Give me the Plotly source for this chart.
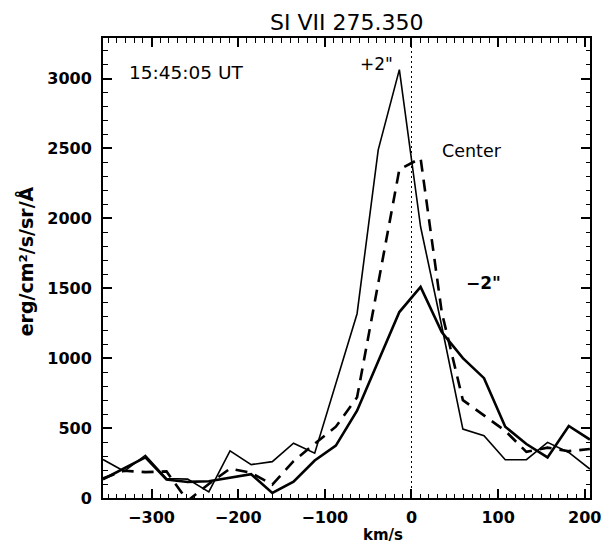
import plotly.graph_objects as go

# Doppler velocity grid (km/s)
velocity = [-356.0, -331.6, -307.1, -282.7, -258.3, -233.9, -209.4, -185.0,
            -160.6, -136.1, -111.7, -87.3, -62.8, -38.4, -14.0, 10.5,
            34.9, 59.3, 83.7, 108.2, 132.6, 157.0, 181.5, 205.9]

# Intensity profiles (erg/cm^2/s/sr/A)
plus2 = [275, 191, 306, 139, 135, 43, 337, 239,
         260, 392, 321, 820, 1318, 2490, 3064, 1940,
         1230, 493, 445, 274, 274, 398, 326, 207]
center = [140, 195, 185, 190, -20, 100, 210, 180,
          95, 263, 388, 510, 720, 1530, 2350, 2430,
          1330, 700, 590, 480, 330, 360, 335, 350]
minus2 = [134, 210, 290, 132, 115, 120, 146, 170,
          36, 117, 268, 375, 624, 983, 1330, 1510,
          1187, 1000, 857, 510, 386, 290, 515, 418]

x_ticks = [-300, -200, -100, 0, 100, 200]
y_ticks = [0, 500, 1000, 1500, 2000, 2500, 3000]

FONT = "DejaVu Sans"

fig = go.Figure()
fig.add_trace(go.Scatter(x=velocity, y=plus2, mode="lines",
                         line=dict(color="black", width=1.6), name="+2''"))
fig.add_trace(go.Scatter(x=velocity, y=center, mode="lines",
                         line=dict(color="black", width=2.6, dash="12px,8px"), name="Center"))
fig.add_trace(go.Scatter(x=velocity, y=minus2, mode="lines",
                         line=dict(color="black", width=2.6), name="-2''"))
fig.add_trace(go.Scatter(x=[0, 0], y=[0, 3290], mode="lines",
                         line=dict(color="black", width=1, dash="2px,3px"), hoverinfo="skip"))

axis_common = dict(
    showline=True, linecolor="black", linewidth=2, mirror="allticks",
    ticks="inside", ticklen=9, tickwidth=1.5, tickcolor="black",
    showgrid=False, zeroline=False,
    tickfont=dict(family=FONT, size=16, color="black", weight="bold"),
)

fig.update_xaxes(range=[-356, 206], tickvals=x_ticks,
                 minor=dict(ticks="inside", ticklen=4.5, dtick=10, tickwidth=1.2, tickcolor="black"),
                 ticklabelstandoff=4, **axis_common)
fig.update_yaxes(range=[0, 3290], tickvals=y_ticks,
                 minor=dict(ticks="inside", ticklen=4.5, dtick=100, tickwidth=1.2, tickcolor="black"),
                 ticklabelstandoff=6, **axis_common)

ann = [
    dict(text="SI VII 275.350", x=0.5, y=1.033, xref="paper", yref="paper",
         showarrow=False, xanchor="center", yanchor="middle",
         font=dict(family=FONT, size=22, color="black")),
    dict(text="erg/cm²/s/sr/Å", x=-0.1596, y=0.515, xref="paper", yref="paper",
         showarrow=False, textangle=-90, xanchor="center", yanchor="middle",
         font=dict(family=FONT, size=19, color="black", weight="bold")),
    dict(text="km/s", x=0.574, y=-0.080, xref="paper", yref="paper",
         showarrow=False, xanchor="center", yanchor="middle",
         font=dict(family=FONT, size=15, color="black", weight="bold")),
    dict(text="15:45:05 UT", x=-328.7, y=3046, xref="x", yref="y",
         showarrow=False, xanchor="left", yanchor="middle",
         font=dict(family=FONT, size=18.5, color="black")),
    dict(text="+2\"", x=-40.4, y=3107, xref="x", yref="y",
         showarrow=False, xanchor="center", yanchor="middle",
         font=dict(family=FONT, size=17, color="black")),
    dict(text="Center", x=69.4, y=2481, xref="x", yref="y",
         showarrow=False, xanchor="center", yanchor="middle",
         font=dict(family=FONT, size=17.5, color="black")),
    dict(text="−2\"", x=83, y=1536, xref="x", yref="y",
         showarrow=False, xanchor="center", yanchor="middle",
         font=dict(family=FONT, size=17, color="black", weight="bold")),
]

# page body adds an 8px offset, so the figure is sized/margined to compensate
fig.update_layout(
    width=605, height=536,
    margin=dict(l=95, r=19, t=30, b=46),
    paper_bgcolor="white", plot_bgcolor="white",
    showlegend=False, annotations=ann,
)

fig.write_html("out.html")
